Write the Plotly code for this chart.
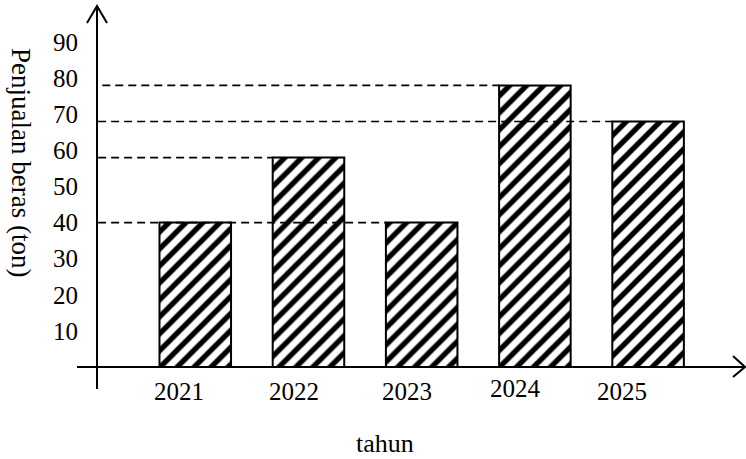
import plotly.graph_objects as go

# ---- data ----
years = [2021, 2022, 2023, 2024, 2025]
sales = [40, 58, 40, 78, 68]
ytick_vals = [10, 20, 30, 40, 50, 60, 70, 80, 90]
ytick_text = ["10", "20", "30", "40", "50", "60", "70", "80", "90"]
year_label_shift = [-16, -14, -15, -19, -26]
year_label_lift = [0, 0, 0, 3, 0]
x_title = "tahun"
y_title = "Penjualan beras (ton)"

# ---- layout geometry ----
W, H = 746, 459
L, R, T, B = 97, 1, 6, 92
PW, PH = W - L - R, H - T - B
X0, X1 = 2020.132, 2025.856
Y0, Y1 = 0, 100
BAR_W = 0.632
FONT = "Liberation Serif, Times New Roman, serif"


def xp(px):
    return (px - L) / PW


def yp(py):
    return (H - B - py) / PH


fig = go.Figure()
fig.add_trace(go.Bar(
    x=years, y=sales, width=BAR_W,
    marker=dict(color="white",
                line=dict(color="black", width=2),
                pattern=dict(shape="/", fgcolor="black", bgcolor="white",
                             size=12, solidity=0.45, fillmode="replace")),
    hoverinfo="skip",
))

shapes = []
# axes with arrows (decorative)
shapes.append(dict(type="line", xref="paper", yref="paper",
                   x0=xp(77), x1=xp(745), y0=yp(367), y1=yp(367),
                   line=dict(color="black", width=2)))
shapes.append(dict(type="path", xref="paper", yref="paper",
                   path=f"M {xp(733)} {yp(356)} L {xp(745)} {yp(367)} L {xp(733)} {yp(377)}",
                   line=dict(color="black", width=2)))
shapes.append(dict(type="line", xref="paper", yref="paper",
                   x0=xp(97), x1=xp(97), y0=yp(389), y1=yp(6),
                   line=dict(color="black", width=2)))
shapes.append(dict(type="path", xref="paper", yref="paper",
                   path=f"M {xp(87)} {yp(23)} L {xp(97)} {yp(6)} L {xp(107)} {yp(23)}",
                   line=dict(color="black", width=2)))

# dashed reference lines from the y-axis to the left edge of the last bar with that value
for v in sorted(set(sales)):
    idx = max(i for i, s in enumerate(sales) if s == v)
    start = X0 + (5.3 / 113.2 if v == max(sales) else 0.01)
    shapes.append(dict(type="line", xref="x", yref="y",
                       x0=start, x1=years[idx] - BAR_W / 2, y0=v, y1=v,
                       line=dict(color="black", width=1.7, dash="8px,5px"),
                       layer="above"))

annotations = []
for yr, sh, lift in zip(years, year_label_shift, year_label_lift):
    annotations.append(dict(x=yr, y=0, xref="x", yref="y", text=str(yr),
                            showarrow=False, xshift=sh, yshift=-24 + lift,
                            xanchor="center", yanchor="middle",
                            font=dict(family=FONT, size=25, color="black")))
annotations.append(dict(x=xp(385), y=yp(443), xref="paper", yref="paper",
                        text=x_title, showarrow=False,
                        xanchor="center", yanchor="middle",
                        font=dict(family=FONT, size=26, color="black")))
annotations.append(dict(x=xp(21), y=yp(162), xref="paper", yref="paper",
                        text=y_title, showarrow=False, textangle=90,
                        xanchor="center", yanchor="middle",
                        font=dict(family=FONT, size=27, color="black")))

fig.update_layout(
    width=W, height=H,
    margin=dict(l=L, r=R, t=T, b=B, pad=0),
    paper_bgcolor="white", plot_bgcolor="white",
    showlegend=False,
    shapes=shapes, annotations=annotations,
    xaxis=dict(range=[X0, X1], showticklabels=False, showgrid=False,
               zeroline=False, showline=False, ticks=""),
    yaxis=dict(range=[Y0, Y1], tickvals=ytick_vals, ticktext=ytick_text,
               showgrid=False, zeroline=False, showline=False, ticks="",
               ticklabelstandoff=18,
               tickfont=dict(family=FONT, size=25, color="black")),
)

fig.write_html("out.html", config={"displayModeBar": False, "staticPlot": True},
               post_script="document.body.style.margin='0px';document.body.style.overflow='hidden';")
